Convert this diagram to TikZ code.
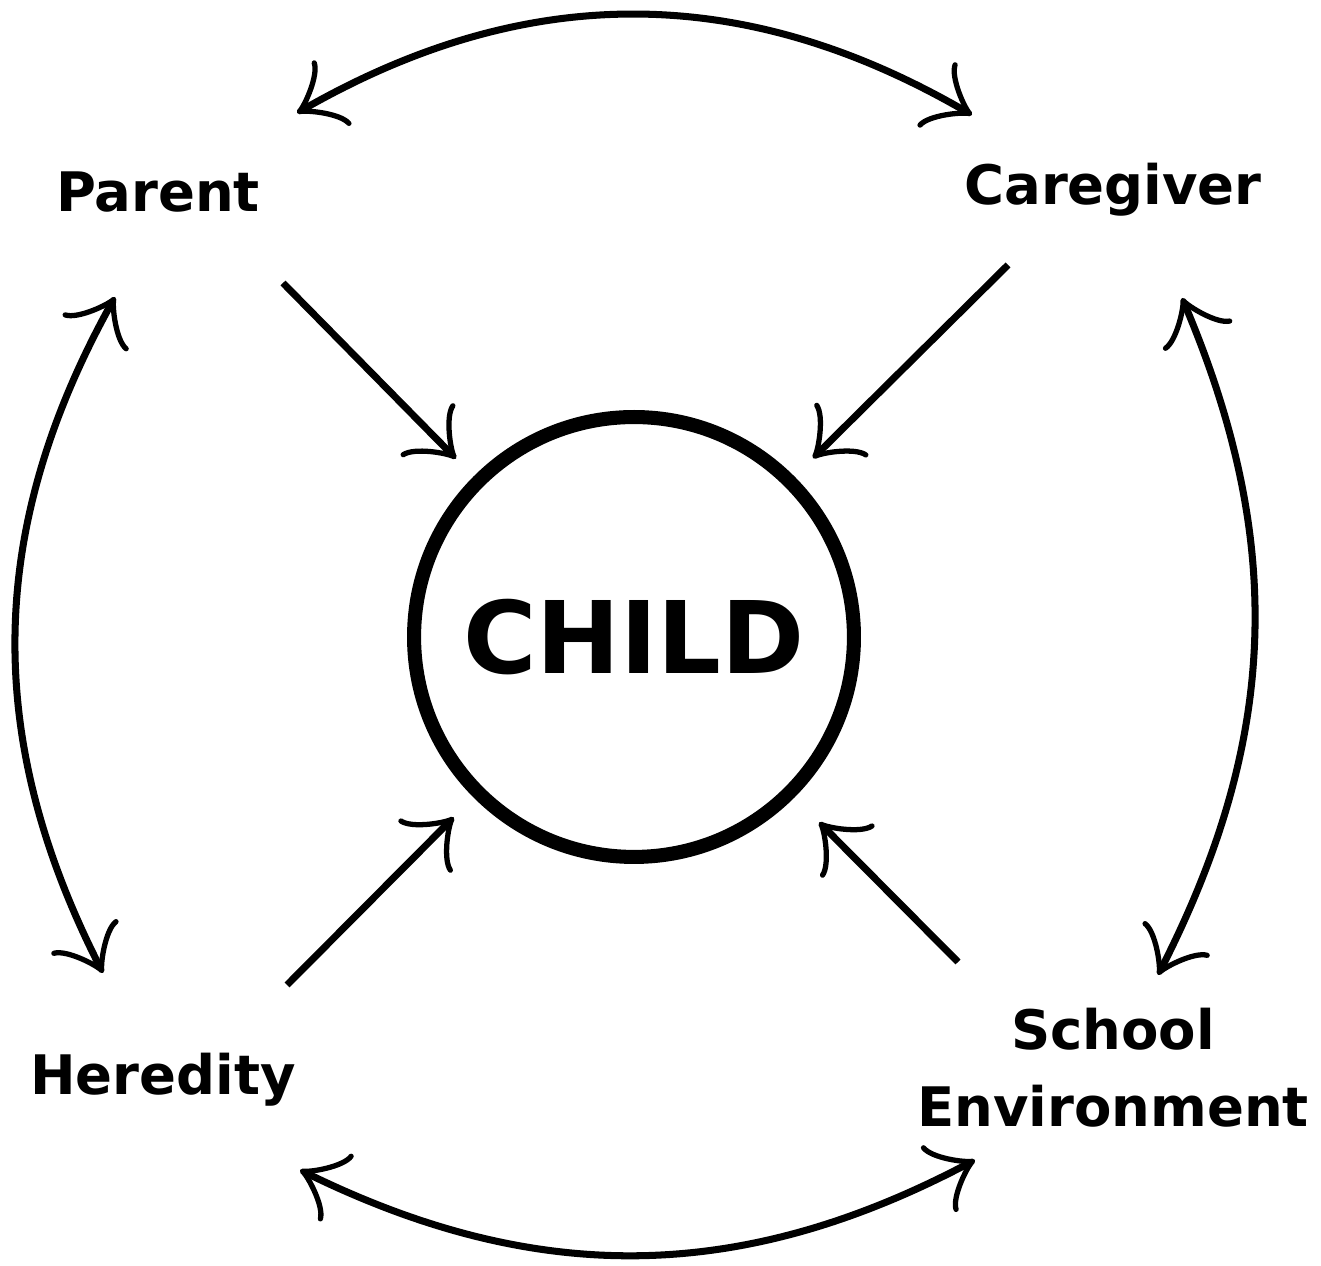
\documentclass[tikz,border=0pt]{standalone}
\usepackage{fontspec}
\setmainfont{DejaVu Sans}
\usetikzlibrary{arrows.meta, positioning}

\begin{document}
\begin{tikzpicture}[
x = 0.02cm, y = 0.02cm,
      >= {Classical TikZ Rightarrow[length=8.5mm, width=15mm, line width=3pt]},
  label/.style = {font=\fontsize{31}{44}\selectfont\bfseries, align=center},
  child/.style = {circle, draw, line width=8pt, minimum size=8.8cm,
                  font=\fontsize{57}{60}\selectfont\bfseries},
   pull/.style = {line width=4pt, ->},
   link/.style = {line width=4pt, <->}
                    ]
\useasboundingbox (0,0) rectangle (1321,1266);

\node[child] (kid) at (634,629) {CHILD};

\node[label, anchor=base] (parent)    at (158,1054) {Parent};
\node[label, anchor=base] (caregiver) at (1113,1061) {Caregiver};
\node[label, anchor=base] (heredity)  at (163,171)  {Heredity};
\node[label]              (school)    at (1113,198) {School\\Environment};

% straight arrows into the circle
\coordinate (pa) at (283,983);
\coordinate (ca) at (1008,1001);
\coordinate (he) at (287,281);
\coordinate (sc) at (958,304);
\draw[pull, shorten >=0.5cm]  (pa) -- (kid.135);
\draw[pull, shorten >=0.52cm] (ca) -- (kid.45);
\draw[pull, shorten >=0.56cm] (he) -- (kid.225);
\draw[pull, shorten >=0.7cm]  (sc) -- (kid.315);

% curved arrows round the outside
\coordinate (tl) at (297,1153);
\coordinate (tr) at (972,1151);
\coordinate (rt) at (1182,968);
\coordinate (rb) at (1158,291);
\coordinate (br) at (975,106);
\coordinate (bl) at (300,96);
\coordinate (lb) at (103,293);
\coordinate (lt) at (115,969);
\draw[link] (tl) to[bend left=30] (tr);
\draw[link] (rt) to[bend left=25] (rb);
\draw[link] (br) to[bend left=27] (bl);
\draw[link] (lb) to[bend left=28] (lt);
\end{tikzpicture}
\end{document}
